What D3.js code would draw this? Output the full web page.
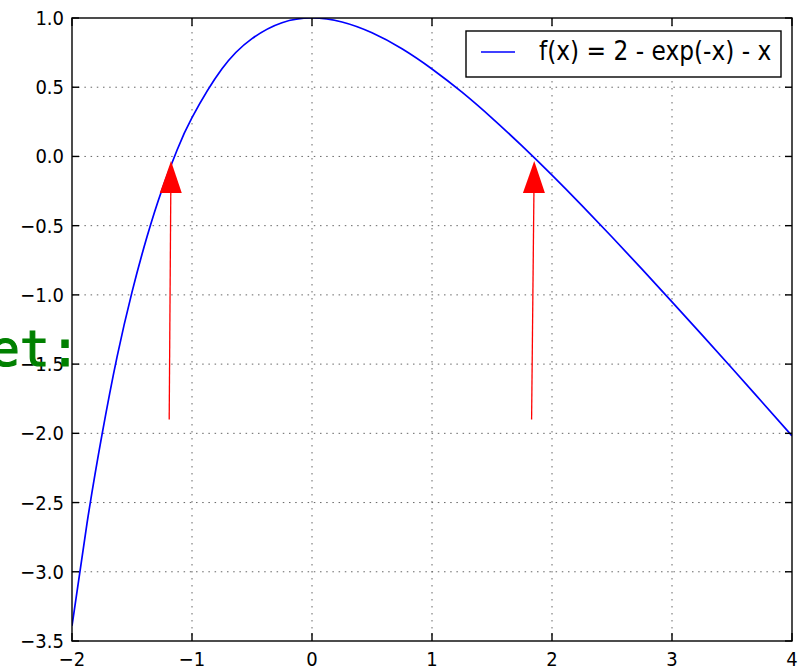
<!DOCTYPE html>
<html>
<head>
<meta charset="utf-8">
<script src="https://cdn.jsdelivr.net/npm/d3@7"></script>
<style>
  html, body { margin: 0; padding: 0; background: #fff; overflow: hidden; }
  text { font-family: "DejaVu Sans", sans-serif; }
</style>
</head>
<body>
<div id="chart"></div>
<script>
// Sizes of the picture and of the plot box inside it
const width = 801;
const height = 669;
const plot = { left: 72, top: 18, right: 792, bottom: 641 };
const stretchY = 1.12; // the text in the picture is a bit taller than wide

// Curve samples
const xValues = [-2, -1.875, -1.75, -1.625, -1.5, -1.375, -1.25, -1.125, -1, -0.75, -0.5, -0.25,
                 0, 0.25, 0.5, 0.75, 1, 1.25, 1.5, 1.75, 2, 2.25, 2.5, 2.75, 3, 3.25, 3.5, 3.75, 4];
const fValues = [-3.39, -2.65, -2.01, -1.45, -0.98, -0.58, -0.24, 0.045, 0.28, 0.633, 0.851, 0.966,
                 1.0, 0.971, 0.893, 0.778, 0.632, 0.464, 0.277, 0.076, -0.135, -0.355, -0.582, -0.814,
                 -1.05, -1.289, -1.53, -1.774, -2.018];

// The two red arrows pointing at the roots
const arrowTailX = [-1.19, 1.83];
const arrowTailY = [-1.9, -1.9];
const arrowTipX = [-1.175, 1.852];
const arrowTipY = [-0.033, -0.033];

// Ticks
const xTicks = [-2, -1, 0, 1, 2, 3, 4];
const yTicks = [1.0, 0.5, 0.0, -0.5, -1.0, -1.5, -2.0, -2.5, -3.0, -3.5];

const legendLabel = "f(x) = 2 - exp(-x) - x";
const overlayText = "et:";

const svg = d3.select("#chart")
    .append("svg")
    .attr("width", width)
    .attr("height", height);

const x = d3.scaleLinear().domain([-2, 4]).range([plot.left, plot.right]);
const y = d3.scaleLinear().domain([-3.5, 1.0]).range([plot.bottom, plot.top]);

// Dotted grid
const grid = svg.append("g")
    .attr("stroke", "#555")
    .attr("stroke-width", 0.9);

grid.selectAll(".vgrid")
    .data(xTicks.slice(1, -1))
    .enter()
    .append("line")
    .attr("x1", d => x(d)).attr("x2", d => x(d))
    .attr("y1", plot.top).attr("y2", plot.bottom)
    .attr("stroke-dasharray", "1.5,5.5");

grid.selectAll(".hgrid")
    .data(yTicks.slice(1, -1))
    .enter()
    .append("line")
    .attr("x1", plot.left).attr("x2", plot.right)
    .attr("y1", d => y(d)).attr("y2", d => y(d))
    .attr("stroke-dasharray", "1.5,4.7");

// Clip so nothing leaves the box
svg.append("clipPath").attr("id", "clip")
    .append("rect")
    .attr("x", plot.left).attr("y", plot.top)
    .attr("width", plot.right - plot.left).attr("height", plot.bottom - plot.top);

// The curve
const line = d3.line()
    .x((d, i) => x(xValues[i]))
    .y(d => y(d))
    .curve(d3.curveNatural);

svg.append("path")
    .datum(fValues)
    .attr("clip-path", "url(#clip)")
    .attr("d", line)
    .attr("fill", "none")
    .attr("stroke", "#0000ff")
    .attr("stroke-width", 1.7);

// Arrows: thin shaft plus a filled head
const headLen = 32;
const headHalf = 11;
const arrows = svg.append("g").attr("fill", "#ff0000");

arrowTailX.forEach((tx, i) => {
    const x0 = x(tx), y0 = y(arrowTailY[i]);
    const x1 = x(arrowTipX[i]), y1 = y(arrowTipY[i]);
    const len = Math.hypot(x1 - x0, y1 - y0);
    const ux = (x1 - x0) / len, uy = (y1 - y0) / len;
    const bx = x1 - ux * headLen, by = y1 - uy * headLen;
    arrows.append("line")
        .attr("x1", x0).attr("y1", y0)
        .attr("x2", bx).attr("y2", by)
        .attr("stroke", "#ff0000")
        .attr("stroke-width", 1.3);
    arrows.append("path")
        .attr("d", `M${x1},${y1}L${bx - uy * headHalf},${by + ux * headHalf}L${bx + uy * headHalf},${by - ux * headHalf}Z`);
});

// Frame and inward ticks on all four sides
const axes = svg.append("g")
    .attr("stroke", "#000")
    .attr("stroke-width", 1.4);

axes.append("rect")
    .attr("x", plot.left).attr("y", plot.top)
    .attr("width", plot.right - plot.left).attr("height", plot.bottom - plot.top)
    .attr("fill", "none");

xTicks.forEach(t => {
    axes.append("line").attr("x1", x(t)).attr("x2", x(t)).attr("y1", plot.bottom).attr("y2", plot.bottom - 8);
    axes.append("line").attr("x1", x(t)).attr("x2", x(t)).attr("y1", plot.top).attr("y2", plot.top + 8);
});
yTicks.forEach(t => {
    axes.append("line").attr("x1", plot.left).attr("x2", plot.left + 7).attr("y1", y(t)).attr("y2", y(t));
    axes.append("line").attr("x1", plot.right).attr("x2", plot.right - 7).attr("y1", y(t)).attr("y2", y(t));
});

// Tick labels (d3.format already writes a real minus sign)
const fmtX = d3.format("d");
const fmtY = d3.format(".1f");

svg.append("g").selectAll("text")
    .data(xTicks)
    .enter()
    .append("text")
    .attr("transform", d => `translate(${x(d)},${plot.bottom + 25}) scale(1,${stretchY})`)
    .attr("text-anchor", "middle")
    .attr("font-size", 18)
    .attr("fill", "#000")
    .text(d => fmtX(d));

svg.append("g").selectAll("text")
    .data(yTicks)
    .enter()
    .append("text")
    .attr("transform", d => `translate(${plot.left - 8},${y(d) + 7}) scale(1,${stretchY})`)
    .attr("text-anchor", "end")
    .attr("font-size", 18)
    .attr("fill", "#000")
    .text(d => fmtY(d));

// Legend in the upper right corner
const legend = svg.append("g").attr("transform", "translate(466,31)");

legend.append("rect")
    .attr("width", 315)
    .attr("height", 46)
    .attr("fill", "#fff")
    .attr("stroke", "#000")
    .attr("stroke-width", 1.4);

legend.append("line")
    .attr("x1", 15).attr("x2", 49)
    .attr("y1", 21).attr("y2", 21)
    .attr("stroke", "#0000ff")
    .attr("stroke-width", 1.7);

legend.append("text")
    .attr("transform", `translate(73,29) scale(1,1.15)`)
    .attr("font-size", 23.3)
    .attr("fill", "#000")
    .text(legendLabel);

// Stray green text that sits on top of the left edge
svg.append("text")
    .attr("x", 80)
    .attr("y", 366)
    .attr("text-anchor", "end")
    .style("font-family", "'DejaVu Sans Mono', monospace")
    .attr("font-size", 50)
    .attr("fill", "#008000")
    .attr("stroke", "#008000")
    .attr("stroke-width", 1.2)
    .text(overlayText);
</script>
</body>
</html>
